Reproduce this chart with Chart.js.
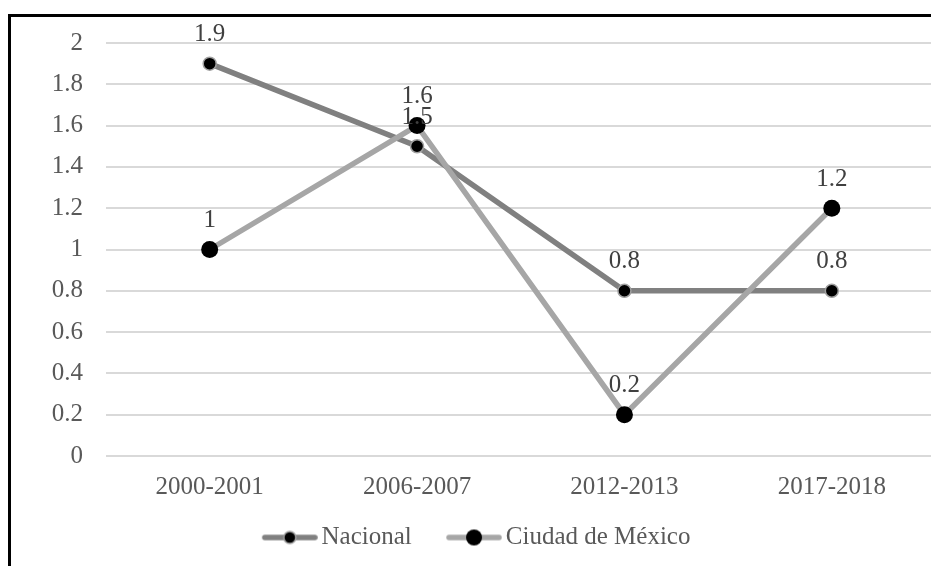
<!DOCTYPE html>
<html>
<head>
<meta charset="utf-8">
<script src="https://cdn.jsdelivr.net/npm/chart.js@4/dist/chart.umd.min.js"></script>
<style>
  html, body { margin: 0; padding: 0; background: #ffffff; overflow: hidden; }
  #wrap { position: relative; width: 944px; height: 566px; }
</style>
</head>
<body>
<div id="wrap"><canvas id="chart"></canvas></div>
<script>
// Periods on the x axis
const periods = ['2000-2001', '2006-2007', '2012-2013', '2017-2018'];
// Series values
const nacional = [1.9, 1.5, 0.8, 0.8];
const cdmx = [1, 1.6, 0.2, 1.2];
// Series names
const seriesNames = ['Nacional', 'Ciudad de México'];

const FONT = '"Liberation Serif", "Times New Roman", serif';
const NAC_LINE = '#808080';
const CDMX_LINE = '#a6a6a6';

// Line-with-marker swatch used as a legend symbol (transparent lead-in on the left)
function swatch(lineColor, radius, borderColor, borderWidth) {
  const c = document.createElement('canvas');
  c.width = 89; c.height = 20;
  const g = c.getContext('2d');
  const x0 = 33;
  g.strokeStyle = lineColor;
  g.lineWidth = 5.5;
  g.lineCap = 'round';
  g.beginPath(); g.moveTo(x0 + 3, 10); g.lineTo(x0 + 53, 10); g.stroke();
  g.beginPath(); g.arc(x0 + 28, 10, radius, 0, Math.PI * 2);
  g.fillStyle = '#000000'; g.fill();
  if (borderWidth) { g.lineWidth = borderWidth; g.strokeStyle = borderColor; g.stroke(); }
  return c;
}

// Value labels above each point
const valueLabels = {
  id: 'valueLabels',
  afterDatasetsDraw(chart) {
    const ctx = chart.ctx;
    ctx.save();
    ctx.font = '25px ' + FONT;
    ctx.fillStyle = '#404040';
    ctx.textAlign = 'center';
    ctx.textBaseline = 'middle';
    chart.data.datasets.forEach((ds, i) => {
      const meta = chart.getDatasetMeta(i);
      meta.data.forEach((pt, j) => {
        ctx.fillText(String(ds.data[j]), pt.x, pt.y - 29);
      });
    });
    ctx.restore();
  }
};

// Black frame along the top and left edges
const frame = {
  id: 'frame',
  afterDraw(chart) {
    const ctx = chart.ctx;
    ctx.save();
    ctx.fillStyle = '#000000';
    ctx.fillRect(8, 14, chart.width, 3);
    ctx.fillRect(8, 14, 3, chart.height);
    ctx.restore();
  }
};

// Centre the legend row on the visible width of the page
const legendShift = {
  id: 'legendShift',
  afterLayout(chart) {
    if (chart.legend) { chart.legend.left -= 8; chart.legend.right -= 8; }
  }
};

new Chart(document.getElementById('chart'), {
  type: 'line',
  data: {
    labels: periods,
    datasets: [
      {
        label: seriesNames[0],
        data: nacional,
        borderColor: NAC_LINE,
        borderWidth: 5.5,
        pointRadius: 6.5,
        pointBackgroundColor: '#000000',
        pointBorderColor: '#a0a0a0',
        pointBorderWidth: 1.5,
        tension: 0,
        order: 1
      },
      {
        label: seriesNames[1],
        data: cdmx,
        borderColor: CDMX_LINE,
        borderWidth: 5.5,
        pointRadius: 8.5,
        pointBackgroundColor: '#000000',
        pointBorderColor: '#000000',
        pointBorderWidth: 0,
        tension: 0,
        order: 0
      }
    ]
  },
  options: {
    responsive: true,
    maintainAspectRatio: false,
    animation: false,
    layout: { padding: { top: 43, left: 0, right: 0, bottom: 6 } },
    scales: {
      x: {
        offset: true,
        grid: { display: false, drawTicks: false },
        border: { display: false },
        ticks: { color: '#595959', font: { family: FONT, size: 25 }, padding: 16, maxRotation: 0 },
        afterFit(scale) { scale.height -= 3; }
      },
      y: {
        min: 0,
        max: 2,
        grid: { color: '#d9d9d9', lineWidth: 2, drawTicks: false },
        border: { display: false },
        ticks: {
          stepSize: 0.2,
          color: '#595959',
          font: { family: FONT, size: 25 },
          padding: 23,
          callback: (v) => String(Math.round(v * 10) / 10)
        },
        afterFit(scale) { scale.width = 106; }
      }
    },
    plugins: {
      tooltip: { enabled: false },
      legend: {
        position: 'bottom',
        labels: {
          color: '#595959',
          font: { family: FONT, size: 25 },
          usePointStyle: true,
          pointStyleWidth: 71.5,
          boxHeight: 20,
          padding: 10,
          generateLabels(chart) {
            return chart.data.datasets.map((ds, i) => ({
              text: ds.label,
              datasetIndex: i,
              fontColor: '#595959',
              pointStyle: i === 0 ? swatch(NAC_LINE, 6, '#a0a0a0', 1.5) : swatch(CDMX_LINE, 8, null, 0),
              lineWidth: 0,
              hidden: false
            }));
          }
        }
      }
    }
  },
  plugins: [valueLabels, frame, legendShift]
});
</script>
</body>
</html>
